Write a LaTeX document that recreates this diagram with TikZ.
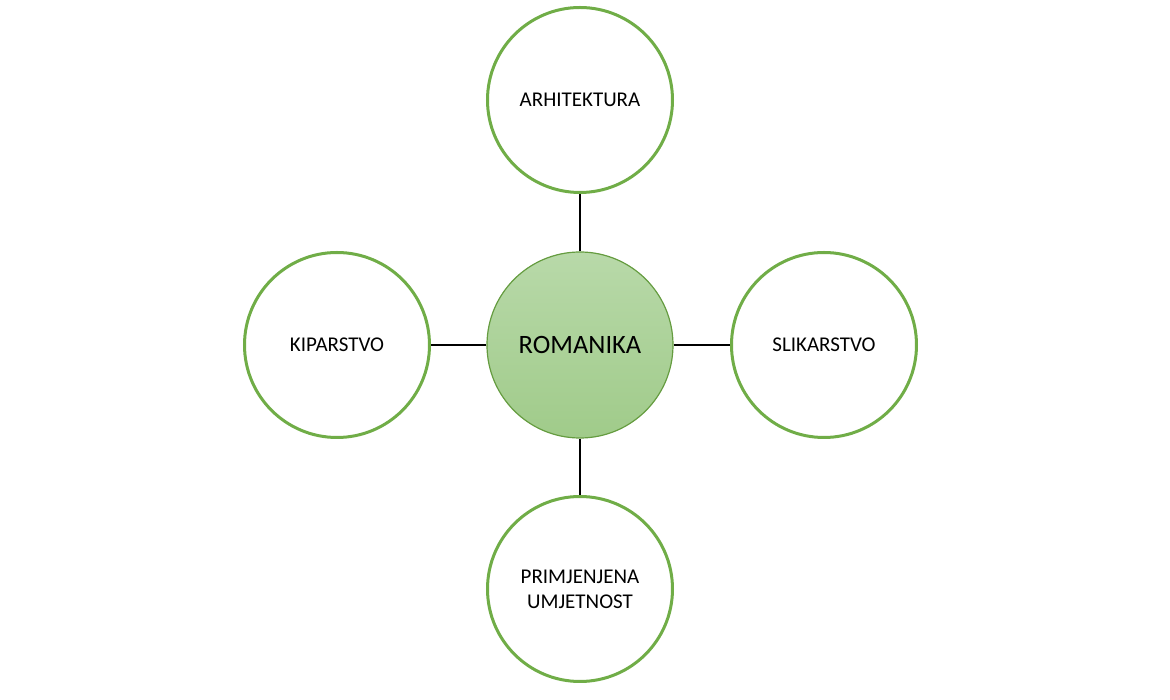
\documentclass[tikz,border=0pt]{standalone}
\usepackage{fontspec}
\setmainfont{Carlito}
\usetikzlibrary{positioning}

\definecolor{romgreen}{HTML}{70AD47}
\definecolor{romtop}{HTML}{B8D9A9}
\definecolor{rombottom}{HTML}{A0CB8A}

\tikzset{
  granak/.style={circle,draw=romgreen,line width=3pt,fill=white,minimum size=185pt,inner sep=0pt,font=\fontsize{21}{25}\selectfont,align=center},
  srediste/.style={circle,draw=romgreen!90!black,line width=1.2pt,top color=romtop,bottom color=rombottom,minimum size=186pt,inner sep=0pt,font=\fontsize{26.5}{30}\selectfont},
  veza/.style={line width=2.5pt,black}
}

\begin{document}
\begin{tikzpicture}[x=1pt,y=1pt]
\useasboundingbox (-580,-355) rectangle (590,345);

% center
\node[srediste] (rom) at (0,0) {ROMANIKA};

% branches
\node[granak] (arh) at (0,245) {ARHITEKTURA};
\node[granak] (kip) at (-243,0) {KIPARSTVO};
\node[granak] (sli) at (244,0) {SLIKARSTVO};
\node[granak] (pri) at (0,-244) {PRIMJENJENA\\UMJETNOST};

% lines
\draw[veza] (rom) -- (arh);
\draw[veza] (rom) -- (kip);
\draw[veza] (rom) -- (sli);
\draw[veza] (rom) -- (pri);
\end{tikzpicture}
\end{document}
